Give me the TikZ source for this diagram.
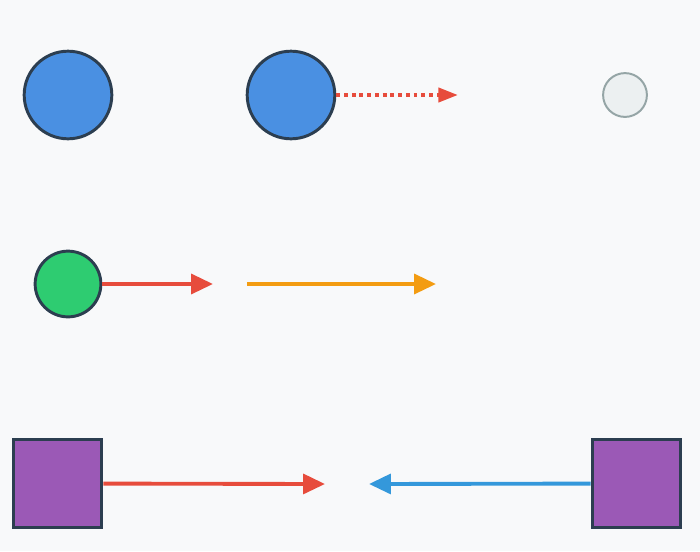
\documentclass[tikz,border=0pt]{standalone}
\usetikzlibrary{arrows.meta}
\begin{document}
\begin{tikzpicture}[x=0.05cm,y=-0.05cm,
  node/.style={draw=c2c,line width=4.2pt,inner sep=0pt},
  arr/.style={line width=5.5pt,-{Triangle[length=22px,width=20px]}},
  px/.style={},
]
\definecolor{bg}{HTML}{F8F9FA}
\definecolor{c2c}{HTML}{2C3E50}
\definecolor{blu}{HTML}{4A90E2}
\definecolor{red}{HTML}{E74C3C}
\definecolor{grn}{HTML}{2ECC71}
\definecolor{org}{HTML}{F39C12}
\definecolor{pur}{HTML}{9B59B6}
\definecolor{lblu}{HTML}{3498DB}
\definecolor{lg}{HTML}{ECF0F1}
\definecolor{gg}{HTML}{95A5A6}
\tikzset{arr/.style={line width=5.5pt,-{Triangle[length=31pt,width=28pt]}}}
\fill[bg] (0,0) rectangle (700,551);
\useasboundingbox (0,0) rectangle (700,551);
\node[node,circle,fill=blu,minimum size=88*1.417pt] (c1) at (68,95) {};
\node[node,circle,fill=blu,minimum size=88*1.417pt] (c2) at (291,95) {};
\coordinate (d2) at (458,95);
\draw[red,line width=5.5pt,dash pattern=on 5.5pt off 5.5pt,-{Triangle[length=28pt,width=20pt]}] (c2) -- (d2);
\node[circle,draw=gg,line width=2.8pt,fill=lg,inner sep=0pt,minimum size=44*1.417pt] (c3) at (625,95) {};
\node[node,circle,fill=grn,minimum size=66*1.417pt] (g) at (68,284) {};
\coordinate (gend) at (213,284);
\draw[red,arr] (g) -- (gend);
\coordinate (os) at (247,284);
\coordinate (oe) at (436,284);
\draw[org,arr] (os) -- (oe);
\node[node,rectangle,fill=pur,minimum size=89*1.417pt] (s1) at (57.5,483.5) {};
\node[node,rectangle,fill=pur,minimum size=89*1.417pt] (s2) at (636.5,483.5) {};
\coordinate (re) at (325,484);
\coordinate (be) at (369,484);
\draw[red,arr] (s1) -- (re);
\draw[lblu,arr] (s2) -- (be);
\end{tikzpicture}
\end{document}
